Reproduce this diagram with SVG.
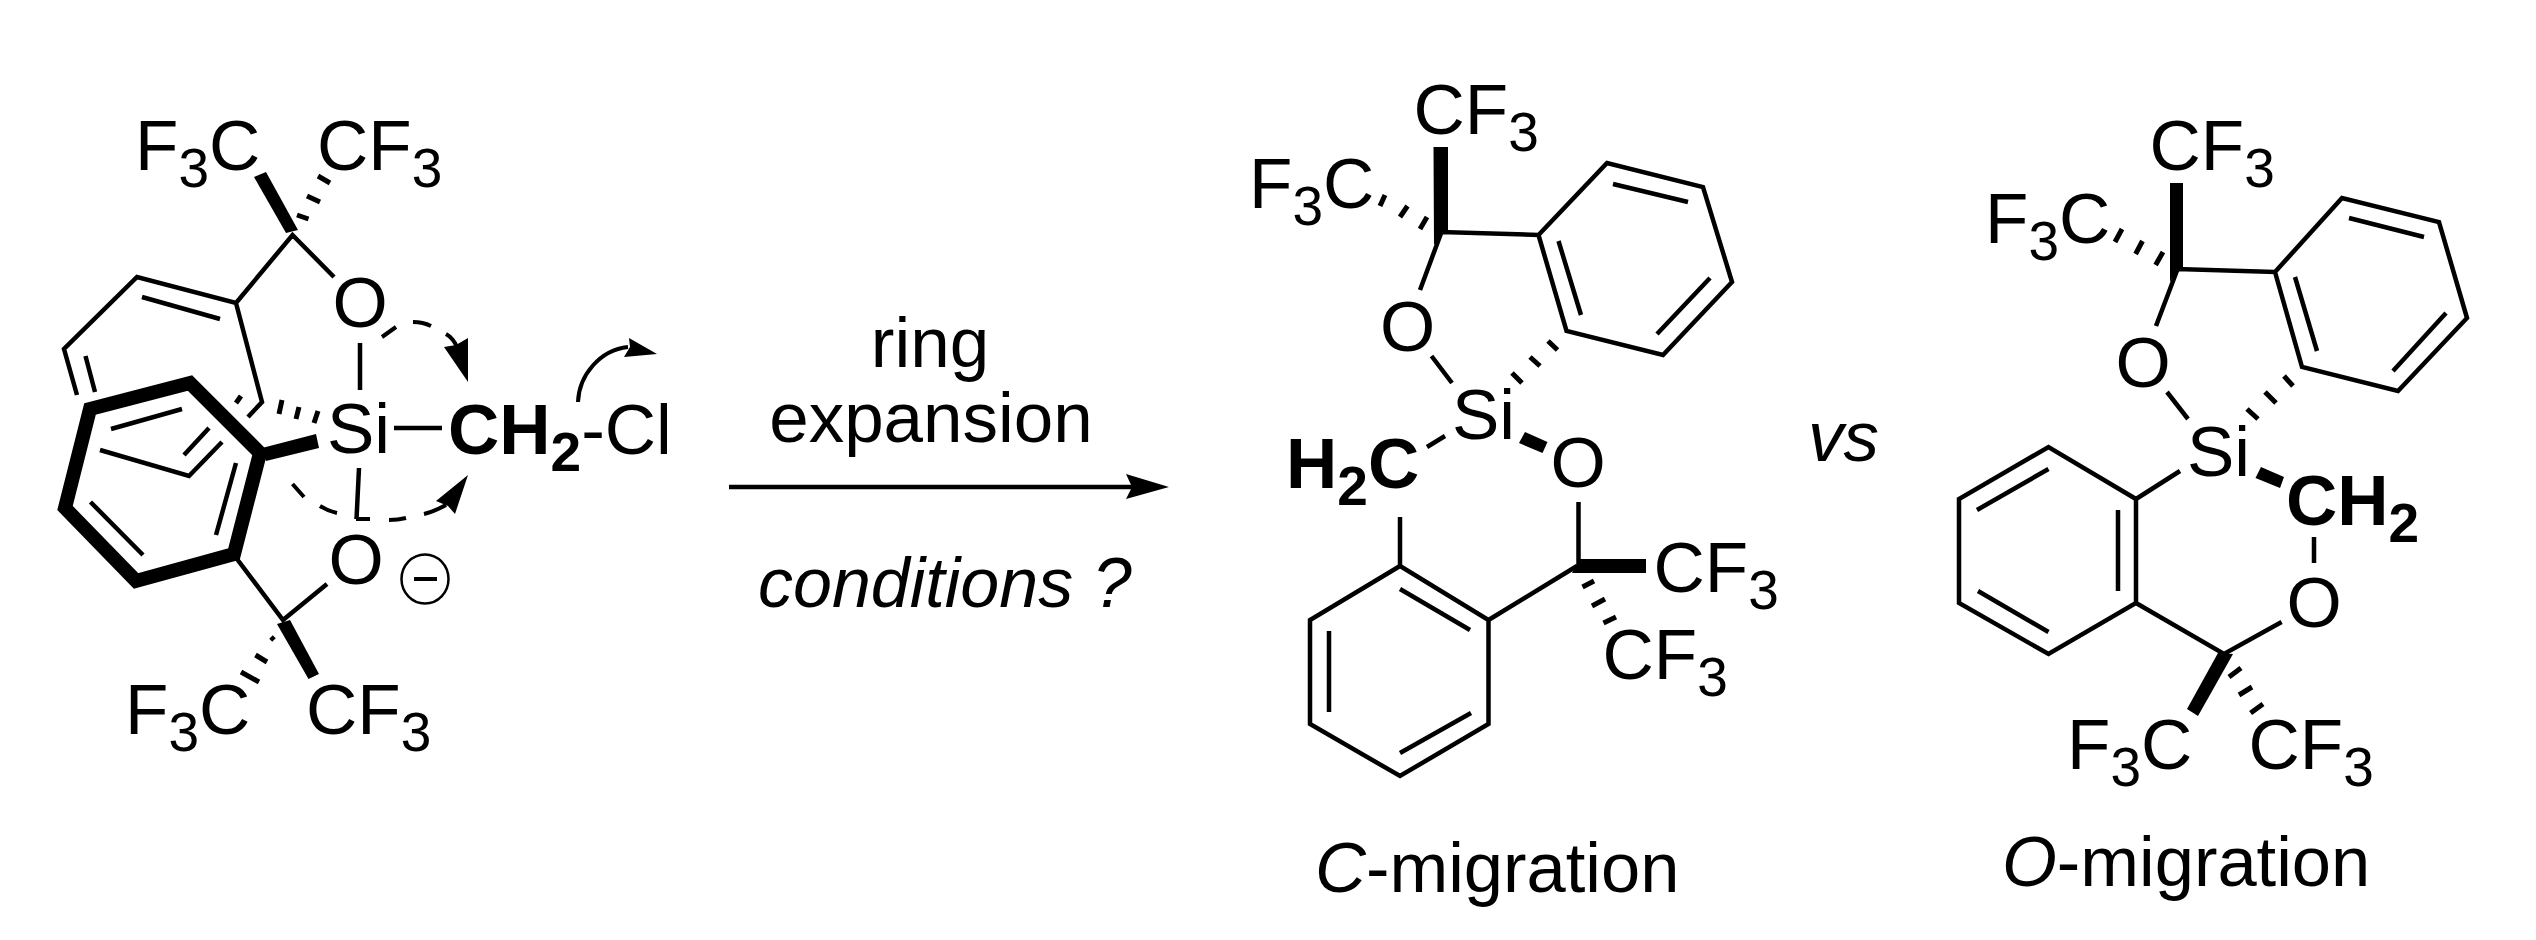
<svg xmlns="http://www.w3.org/2000/svg" width="2536" height="940" viewBox="0 0 2536 940">
<style>
text{font-family:"Liberation Sans",Arial,sans-serif;font-size:71px;fill:#000}
.b{font-weight:bold}
.n{font-weight:normal}
.i{font-style:italic}
.s{font-size:55px}
.m{font-size:70.500px}
.l{fill:none;stroke:#000;stroke-width:4.500;stroke-linejoin:miter;stroke-linecap:butt}
.h{fill:none;stroke:#000;stroke-width:5}
.t{fill:none;stroke:#000;stroke-width:14;stroke-linejoin:miter}
.c{fill:none;stroke:#000;stroke-width:4}
.f{fill:#000;stroke:none}
</style>
<rect width="2536" height="940" fill="#fff"/>
<g id="reactant">
<polygon class="f" points="254,177 266,172 298,230 286,233"/>
<path class="h" d="M297 215L308.500 219M307 196L320 202M318 176L330 183"/>
<path class="l" d="M334 277L292.500 235L236 303L137 277L64 349L77 395M142 297L220 319M85.500 356L95 392M236 303L262 402L248 417M222 442L189 476L100 450M209 428L184 455"/>
<path class="h" d="M241 396L236 403M282 400L279 414M299 407L296 419M318 411L314 423"/>
<polygon class="t" points="90,409 190,383 260,453 234,554 136,581 65,508"/>
<path class="l" d="M111 429L182 409M90.500 502L143 555M236 463L216 535"/>
<polygon class="f" points="262,448 316,434 319,448 266,461"/>
<path class="l" d="M360 343L360 390M394 428L442 428M359 468L356.500 519M237 559L283 620L327 584"/>
<polygon class="f" points="277,624 290,620 319,674 308.500,679"/>
<path class="h" d="M271 637L274 640M255.500 655L267 662M241 672L259 682"/>
<path class="c" d="M382 337L396 327M413 322Q423 322 431 326M446 334Q453 338 457 347"/>
<polygon class="f" points="468,382 468,338 456,345 444,347"/>
<path class="c" d="M292.500 484L304 497M320 506Q328 511 337 513M356 519L370 519M389 520Q398 520 406 518M424 514Q433 512 446 505"/>
<polygon class="f" points="468,475 436,501 448,506 455,514"/>
<path class="c" d="M578 402C579 375 600 350 628 347"/>
<polygon class="f" points="629,338 657,354 624,357 630,347"/>
<ellipse cx="425" cy="579" rx="23.500" ry="24.500" fill="none" stroke="#000" stroke-width="2.500"/>
<path class="c" d="M414 579L437 579"/>
<text x="135" y="170">F<tspan class="s" dy="17">3</tspan><tspan dy="-17">C</tspan></text>
<text x="317" y="170">CF<tspan class="s" dy="17">3</tspan></text>
<text x="360" y="327" text-anchor="middle">O</text>
<text x="327" y="453">Si</text>
<text x="448" y="454" class="b">CH<tspan class="s" dy="17">2</tspan><tspan class="n" dy="-17">-Cl</tspan></text>
<text x="356" y="584" text-anchor="middle">O</text>
<text x="125" y="734">F<tspan class="s" dy="17">3</tspan><tspan dy="-17">C</tspan></text>
<text x="306" y="734">CF<tspan class="s" dy="17">3</tspan></text>
</g>
<g id="connectors">
<path class="l" d="M729 487L1135 487"/>
<polygon class="f" points="1169,487 1126,474 1132,487 1126,499"/>
</g>
<g id="conditions">
<text x="930" y="367" text-anchor="middle">ring</text>
<text x="931" y="442" text-anchor="middle">expansion</text>
<text x="758" y="607" class="i" style="font-size:70px">conditions ?</text>
<text x="1808" y="461" class="i">vs</text>
</g>
<g id="c-migration">
<polygon class="f" points="1433.500,147 1448,147 1448,232 1442,233 1434,245"/>
<path class="l" d="M1420 290L1441.500 232L1538.500 235L1607 163L1703 187L1732 282L1663 355L1566.500 331L1538.500 235M1613 184L1688 202M1710 278L1657 334M1558.500 241L1581 315"/>
<path class="h" d="M1385 195L1380 206M1407.500 206L1400 217M1427 217L1420 229M1548 341L1557.500 350M1530 357L1540 366M1512 373L1522 383"/>
<path class="l" d="M1431.500 356L1452 383M1445 436L1427 447"/>
<polygon class="f" points="1525,432 1547.500,442 1542.500,453 1519,443"/>
<path class="l" d="M1400 517L1400 566L1488.500 620L1488.500 724L1400 776L1310 724L1310 620L1400 566M1400 589L1470 630M1471 713L1400 753M1329 631L1329 712M1488.500 620L1577 566M1578.500 502L1578.500 566"/>
<polygon class="f" points="1580,559 1646,559 1646,573 1572,573"/>
<path class="h" d="M1582.500 587L1594 581M1592 606L1605 599M1603.500 623L1616 617"/>
<text x="1413.500" y="134">CF<tspan class="s" dy="17">3</tspan></text>
<text x="1249" y="208">F<tspan class="s" dy="17">3</tspan><tspan dy="-17">C</tspan></text>
<text x="1407.500" y="351" text-anchor="middle">O</text>
<text x="1452" y="439">Si</text>
<text x="1578" y="487" text-anchor="middle">O</text>
<text x="1286" y="488" class="b">H<tspan class="s" dy="17">2</tspan><tspan dy="-17">C</tspan></text>
<text x="1653.500" y="592">CF<tspan class="s" dy="17">3</tspan></text>
<text x="1602.500" y="679">CF<tspan class="s" dy="17">3</tspan></text>
<text x="1315" y="892" class="m"><tspan class="i">C</tspan>-migration</text>
</g>
<g id="o-migration">
<polygon class="f" points="2170,183 2183,183 2183,267 2177.600,268 2170,282"/>
<path class="l" d="M2156 326L2177.600 269L2275 272L2342 198L2439 222L2467 318L2398 391L2302 367L2275 272M2349 218L2424 237M2446 313L2393 371M2295 277L2317 351"/>
<path class="h" d="M2122 229L2115 242M2142.500 241L2135.600 254M2163 252L2155.600 265M2284 376L2293 386M2265 392L2276 403M2247 409L2258 419"/>
<path class="l" d="M2167 392L2188 419"/>
<polygon class="f" points="2261,467 2284,477 2280,488 2255.500,478"/>
<path class="l" d="M2180 471L2136 499L2048.500 447L1959 499L1959 603L2048.500 654L2136 603L2136 499M2048.500 469L1977 510M1978 591L2048.500 632M2118 510L2118 591M2136 603L2224 654L2281.600 622M2314 537L2314 563"/>
<polygon class="f" points="2218,653 2233,654 2198,716 2187,709"/>
<path class="h" d="M2229 677L2241 668M2239 695L2252 687M2250.600 713L2263 704"/>
<text x="2149.500" y="170">CF<tspan class="s" dy="17">3</tspan></text>
<text x="1985" y="243">F<tspan class="s" dy="17">3</tspan><tspan dy="-17">C</tspan></text>
<text x="2143" y="387" text-anchor="middle">O</text>
<text x="2187" y="476">Si</text>
<text x="2286" y="525" class="b">CH<tspan class="s" dy="17">2</tspan></text>
<text x="2314" y="627" text-anchor="middle">O</text>
<text x="2067" y="769">F<tspan class="s" dy="17">3</tspan><tspan dy="-17">C</tspan></text>
<text x="2248.500" y="769">CF<tspan class="s" dy="17">3</tspan></text>
<text x="2002" y="886" class="m"><tspan class="i">O</tspan>-migration</text>
</g>
</svg>
